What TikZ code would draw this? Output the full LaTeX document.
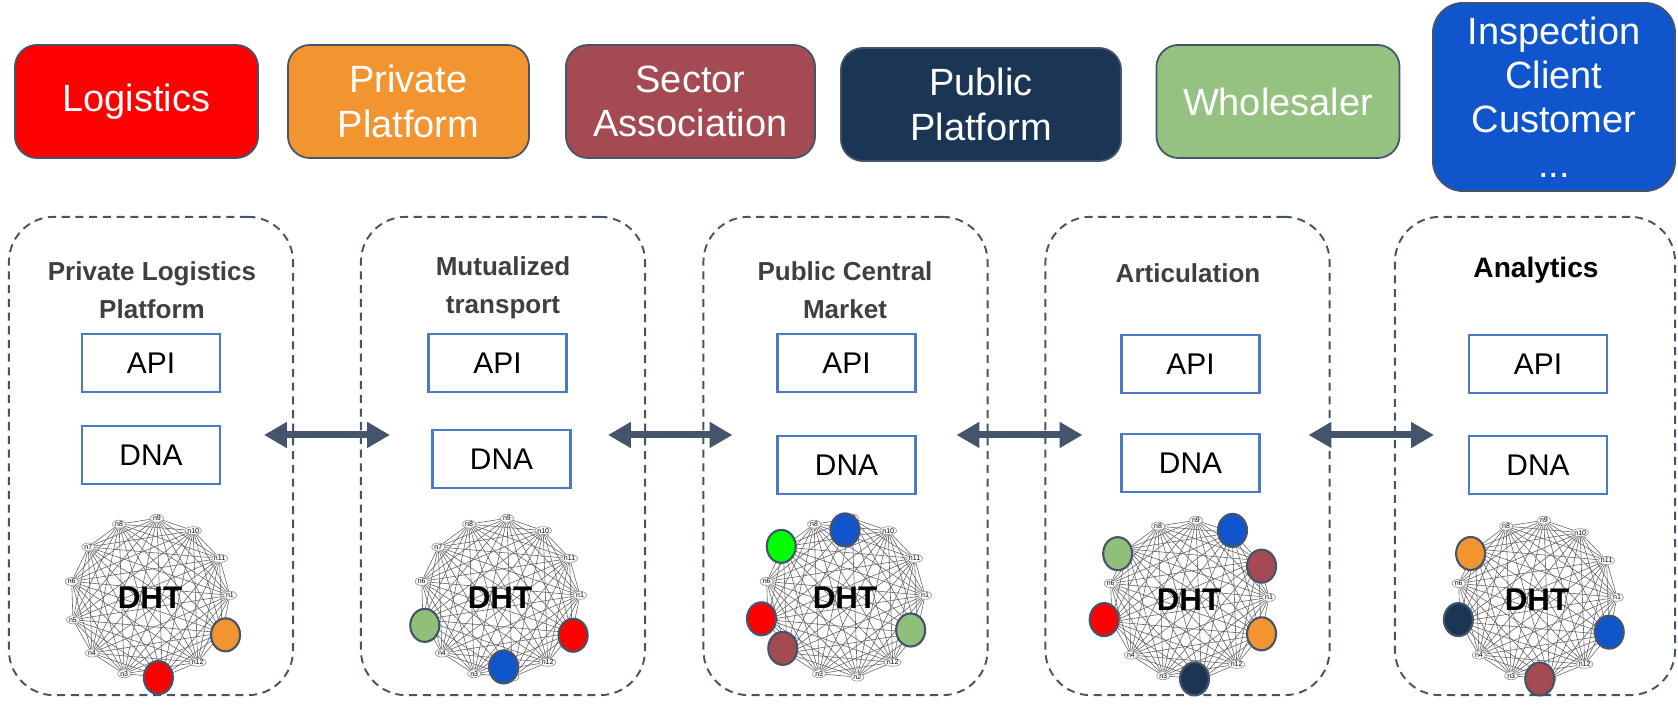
\documentclass[tikz,border=0pt]{standalone}
\usepackage{fontspec}
\setmainfont{Liberation Sans}
\usepackage{tikz}
\usetikzlibrary{arrows.meta}
\usetikzlibrary{positioning}
\usetikzlibrary{shapes.geometric}
\usetikzlibrary{backgrounds}
\definecolor{cred}{HTML}{FF0000}
\definecolor{corange}{HTML}{F29530}
\definecolor{cbrown}{HTML}{A44A52}
\definecolor{cnavy}{HTML}{1B3555}
\definecolor{cgreen}{HTML}{8FBF79}
\definecolor{cblue}{HTML}{1155CC}
\definecolor{clime}{HTML}{00FF00}
\definecolor{edgeblue}{HTML}{44546A}
\definecolor{apiblue}{HTML}{4A7AC6}
\definecolor{titlegrey}{HTML}{3C4043}
\tikzset{
  topbox/.style = {rectangle, rounded corners=0.22cm, draw=edgeblue,
    line width=0.5pt, text=white, align=center,
    font=\fontsize{10.8}{12.6}\selectfont,
    minimum width=2.43cm, minimum height=1.13cm},% acteurs
  zone/.style = {rectangle, rounded corners=0.45cm, draw=edgeblue,
    line width=0.55pt, dash pattern=on 2.3pt off 1.6pt,
    minimum width=2.84cm, minimum height=4.78cm},% noeud du reseau
  zonetitle/.style = {align=center, text=titlegrey,
    font=\bfseries\fontsize{7.4}{10.8}\selectfont},
  iface/.style = {rectangle, draw=apiblue, line width=0.6pt,
    minimum width=1.38cm, minimum height=0.58cm,
    font=\fontsize{8.5}{10}\selectfont},
  dhtlabel/.style = {inner sep=0pt, font=\bfseries\fontsize{8.9}{10}\selectfont},
  ringnode/.style = {ellipse, draw=black!40, fill=white, line width=0.2pt,
    inner sep=0pt, minimum width=0.13cm, minimum height=0.08cm,
    font=\fontsize{2}{2}\selectfont},
  meshline/.style = {draw=black!60, line width=0.17pt},
  peer/.style = {ellipse, draw=edgeblue, line width=0.6pt, inner sep=0pt,
    minimum width=0.29cm, minimum height=0.33cm},% pair colore
  biarrow/.style = {draw=edgeblue, line width=2pt,
    {Triangle[length=6.5pt,width=7pt]}-{Triangle[length=6.5pt,width=7pt]}}
}
% anneau DHT autour du noeud #1
\newcommand{\dhtring}[1]{%
  \foreach \lab [count=\k from 0] in {n9,n10,n11,n1,{},n12,n2,n3,n4,n5,n6,n7,n8}
    \node [ringnode] (#1-\k) at ([shift={({85-27.69*\k}:0.8cm)}]#1) {\lab};
  \begin{scope}[on background layer]
    \foreach \i in {0,...,11}{
      \pgfmathtruncatemacro\nxt{\i+1}
      \foreach \j in {\nxt,...,12}
        \draw [meshline] (#1-\i) -- (#1-\j);
    }
  \end{scope}
}

\begin{document}
\begin{tikzpicture}[x=0.01cm,y=-0.01cm]
\useasboundingbox (0,0) rectangle (1678,710);

% acteurs
\node [topbox, fill=cred] (logi) at (136.5,101.5) {Logistics\vphantom{P}};
\node [topbox, fill=corange, minimum width=2.41cm] (privp) at (408.5,101.5) {Private\\Platform};
\node [topbox, fill=cbrown, minimum width=2.49cm] (sector) at (690.5,101.5) {Sector\\Association};
\node [topbox, fill=cnavy, minimum width=2.80cm] (pubp) at (981,104.5) {Public\\Platform};
\node [topbox, fill=cgreen!95!white] (whole) at (1278,101.5) {Wholesaler};
\node [topbox, fill=cblue, rounded corners=0.3cm, minimum width=2.42cm,
  minimum height=1.88cm] (insp) at (1554,97) {Inspection\\Client\\Customer\\...};

% noeuds
\node [zone] (p1) at (151,456) {};
\node [zone] (p2) at (503,456) {};
\node [zone] (p3) at (845.5,456) {};
\node [zone] (p4) at (1187.5,456) {};
\node [zone, minimum width=2.80cm] (p5) at (1535,456) {};

\node [zonetitle] (t1) at (152,290) {Private Logistics\\Platform};
\node [zonetitle] (t2) at (503,288) {Mutualized\\transport};
\node [zonetitle] (t3) at (845,290) {Public Central\\Market};
\node [zonetitle] (t4) at (1188,273) {Articulation};
\node [zonetitle, text=black, font=\bfseries\fontsize{8}{10}\selectfont] (t5) at (1536,270) {Analytics};

\node [iface] (api1) at (151,363) {API};
\node [iface, below=0.32cm of api1] (dna1) {DNA};
\node [iface] (api2) at (497.5,363) {API};
\node [iface, below=0.36cm of api2, xshift=0.04cm] (dna2) {DNA};
\node [iface] (api3) at (846.5,363) {API};
\node [iface, below=0.42cm of api3] (dna3) {DNA};
\node [iface] (api4) at (1190.5,364) {API};
\node [iface, below=0.39cm of api4] (dna4) {DNA};
\node [iface] (api5) at (1538,364) {API};
\node [iface, below=0.41cm of api5] (dna5) {DNA};

% DHT
\node [dhtlabel] (g1) at (150,598) {DHT};
\dhtring{g1}
\node [peer, fill=cred] at ([shift={(-84:0.80cm)}]g1) {};
\node [peer, fill=corange] at ([shift={(-26:0.84cm)}]g1) {};

\node [dhtlabel] (g2) at (500,598) {DHT};
\dhtring{g2}
\node [peer, fill=cgreen] at ([shift={(-160:0.80cm)}]g2) {};
\node [peer, fill=cblue] at ([shift={(-87:0.69cm)}]g2) {};
\node [peer, fill=cred] at ([shift={(-27:0.82cm)}]g2) {};

\node [dhtlabel] (g3) at (845,598) {DHT};
\dhtring{g3}
\node [peer, fill=clime] at ([shift={(141:0.82cm)}]g3) {};
\node [peer, fill=cblue] at ([shift={(90:0.68cm)}]g3) {};
\node [peer, fill=cred] at ([shift={(-166:0.86cm)}]g3) {};
\node [peer, fill=cbrown] at ([shift={(-141:0.80cm)}]g3) {};
\node [peer, fill=cgreen] at ([shift={(-26:0.73cm)}]g3) {};

\node [dhtlabel] (g4) at (1189,600) {DHT};
\dhtring{g4}
\node [peer, fill=cgreen] at ([shift={(147:0.85cm)}]g4) {};
\node [peer, fill=cblue] at ([shift={(58:0.82cm)}]g4) {};
\node [peer, fill=cbrown] at ([shift={(25:0.80cm)}]g4) {};
\node [peer, fill=cred] at ([shift={(-167:0.87cm)}]g4) {};
\node [peer, fill=corange] at ([shift={(-25:0.80cm)}]g4) {};
\node [peer, fill=cnavy] at ([shift={(-86:0.79cm)}]g4) {};

\node [dhtlabel] (g5) at (1537,600) {DHT};
\dhtring{g5}
\node [peer, fill=corange] at ([shift={(145:0.81cm)}]g5) {};
\node [peer, fill=cnavy] at ([shift={(-166:0.81cm)}]g5) {};
\node [peer, fill=cblue] at ([shift={(-24:0.79cm)}]g5) {};
\node [peer, fill=cbrown] at ([shift={(-88:0.79cm)}]g5) {};

% liens entre noeuds
\draw [biarrow] ([xshift=-0.30cm,yshift=0.21cm]p1.east) -- ([xshift=0.30cm,yshift=0.21cm]p2.west);
\draw [biarrow] ([xshift=-0.38cm,yshift=0.21cm]p2.east) -- ([xshift=0.30cm,yshift=0.21cm]p3.west);
\draw [biarrow] ([xshift=-0.32cm,yshift=0.21cm]p3.east) -- ([xshift=0.38cm,yshift=0.21cm]p4.west);
\draw [biarrow] ([xshift=-0.22cm,yshift=0.21cm]p4.east) -- ([xshift=0.40cm,yshift=0.21cm]p5.west);
\end{tikzpicture}
\end{document}
